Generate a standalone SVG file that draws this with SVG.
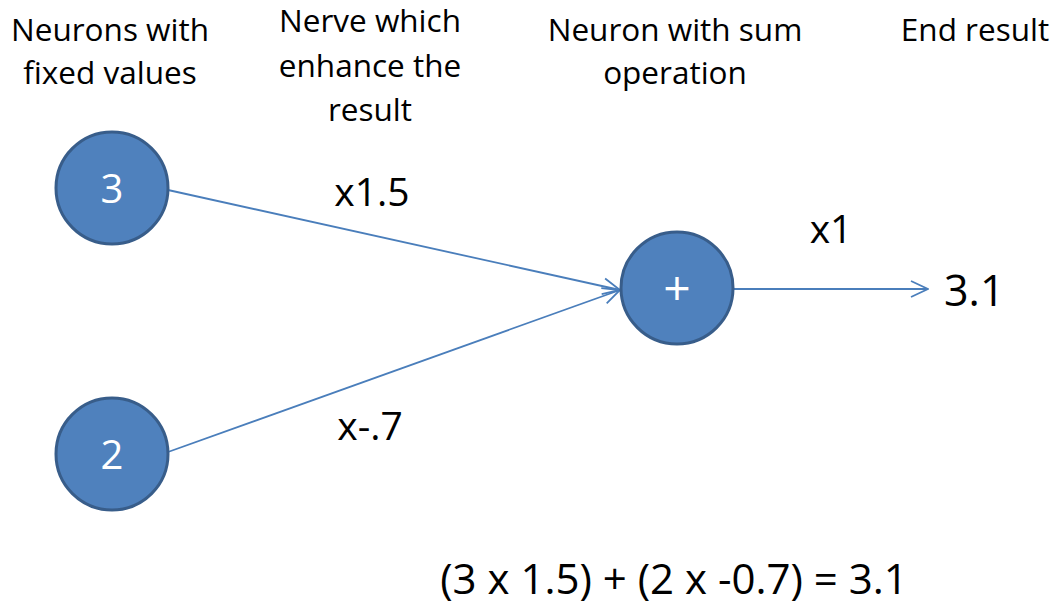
<svg xmlns="http://www.w3.org/2000/svg" width="1056" height="606" viewBox="0 0 1056 606">
<style>
.t{font-family:"Open Sans","Noto Sans",sans-serif;fill:#000;text-anchor:middle}
.h{font-size:31.5px}
.l{font-size:39px}
.n circle{fill:#4f81bd;stroke:#385d8a;stroke-width:3}
.n text{font-family:"Open Sans","Noto Sans",sans-serif;fill:#fff;font-size:40px;text-anchor:middle}
.c{stroke:#4a7ebb;stroke-width:1.8;fill:none}
</style>
<defs>
<marker id="a" viewBox="0 0 20 20" refX="19" refY="10" markerWidth="20" markerHeight="20" markerUnits="userSpaceOnUse" orient="auto">
<path d="M2,2 L19,10 L2,18" fill="none" stroke="#4a7ebb" stroke-width="1.8"/>
</marker>
</defs>
<rect width="1056" height="606" fill="#fff"/>
<g id="headers">
<text class="t h" x="110" y="41">Neurons with</text>
<text class="t h" x="110" y="84">fixed values</text>
<text class="t h" x="370" y="32">Nerve which</text>
<text class="t h" x="370" y="77">enhance the</text>
<text class="t h" x="370" y="121">result</text>
<text class="t h" x="675" y="41">Neuron with sum</text>
<text class="t h" x="675" y="84">operation</text>
<text class="t h" x="975" y="41">End result</text>
</g>
<g id="connectors">
<line class="c" x1="168" y1="190" x2="620" y2="290" marker-end="url(#a)"/>
<line class="c" x1="168" y1="452" x2="620" y2="290" marker-end="url(#a)"/>
<line class="c" x1="734" y1="289" x2="928" y2="289" marker-end="url(#a)"/>
</g>
<g id="labels">
<text class="t l" x="372" y="206">x1.5</text>
<text class="t l" x="370" y="440">x-.7</text>
<text class="t l" x="831" y="243">x1</text>
<text class="t" style="font-size:43px;text-anchor:start" x="944" y="306">3.1</text>
<text class="t" style="font-size:42px" x="674" y="594">(3 x 1.5) + (2 x -0.7) = 3.1</text>
</g>
<g id="n3" class="n"><circle cx="112" cy="188" r="56"/><text x="112" y="203">3</text></g>
<g id="n2" class="n"><circle cx="112" cy="454" r="56"/><text x="112" y="469">2</text></g>
<g id="nsum" class="n"><circle cx="677" cy="288" r="56"/><text x="677" y="305" style="font-size:48px">+</text></g>
</svg>
